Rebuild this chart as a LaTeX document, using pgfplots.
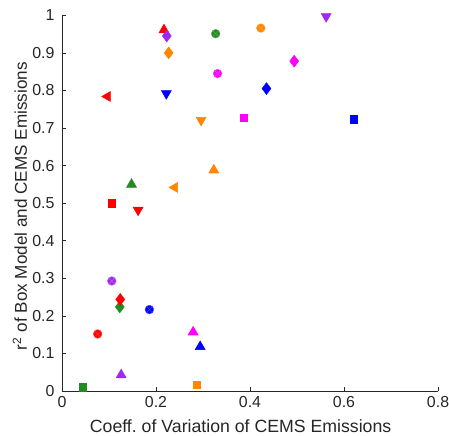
\documentclass[border=0pt]{standalone}
\usepackage{fontspec}
\setmainfont{Liberation Sans}
\usepackage{pgfplots}
\pgfplotsset{compat=1.18}
\frenchspacing
\definecolor{mred}{RGB}{255,0,0}
\definecolor{morange}{RGB}{255,135,0}
\definecolor{mgreen}{RGB}{34,139,34}
\definecolor{mblue}{RGB}{0,0,255}
\definecolor{mmag}{RGB}{255,0,255}
\definecolor{mpurple}{RGB}{160,40,240}
\definecolor{axgray}{RGB}{38,38,38}
\pgfplotsset{
  tri/.style={only marks, mark=triangle*, mark size=3.8pt, color=#1},
  trid/.style={only marks, mark=triangle*, mark size=3.8pt, color=#1, mark options={rotate=180}},
  tril/.style={only marks, mark=triangle*, mark size=3.8pt, color=#1, mark options={rotate=90}},
  sq/.style={only marks, mark=square*, mark size=2.4pt, color=#1},
  dia/.style={only marks, mark=diamond*, mark size=3.9pt, color=#1},
  circ/.style={only marks, mark=otimes*, mark size=2.9pt, color=#1, mark options={draw=#1!75!white, fill=#1, line width=0.3pt}},
}
\begin{document}
\begin{tikzpicture}
\begin{axis}[
  at={(0,0)}, anchor=south west,
  scale only axis, width=250.7pt, height=250.5pt,
  xmin=0, xmax=0.8, ymin=0, ymax=1,
  xtick={0,0.2,0.4,0.6,0.8},
  ytick={0,0.1,0.2,0.3,0.4,0.5,0.6,0.7,0.8,0.9,1},
  axis lines*=left,
  axis line style={-, draw=axgray, line width=0.5pt},
  tick style={draw=axgray, line width=0.5pt},
  tick align=inside,
  major tick length=2.4pt,
  tick label style={font=\fontsize{10.6}{12}\selectfont, text=axgray},
  /pgf/number format/assume math mode=true,
  yticklabel style={xshift=-1.5pt},
  label style={text=axgray},
  xlabel={Coeff. of Variation of CEMS Emissions},
  ylabel={r\textsuperscript{2} of Box Model and CEMS Emissions},
  xlabel style={font=\fontsize{11.8}{13}\selectfont, at={(axis description cs:0.475,-0.109)}, anchor=base},
  ylabel style={font=\fontsize{11.4}{13}\selectfont, at={(axis description cs:-0.093,0.492)}, anchor=base},
  clip=false,
]
% green
\addplot[circ=mgreen] coordinates {(0.327,0.951)};
\addplot[tri=mgreen] coordinates {(0.148,0.550)};
\addplot[dia=mgreen] coordinates {(0.123,0.224)};
\addplot[sq=mgreen] coordinates {(0.045,0.010)};
% red
\addplot[tri=mred] coordinates {(0.217,0.961)};
\addplot[tril=mred] coordinates {(0.097,0.784)};
\addplot[sq=mred] coordinates {(0.106,0.500)};
\addplot[trid=mred] coordinates {(0.162,0.482)};
\addplot[dia=mred] coordinates {(0.124,0.244)};
\addplot[circ=mred] coordinates {(0.076,0.152)};
% orange
\addplot[dia=morange] coordinates {(0.227,0.900)};
\addplot[trid=morange] coordinates {(0.296,0.721)};
\addplot[tri=morange] coordinates {(0.323,0.588)};
\addplot[tril=morange] coordinates {(0.240,0.542)};
\addplot[circ=morange] coordinates {(0.423,0.966)};
\addplot[sq=morange] coordinates {(0.287,0.016)};
% blue
\addplot[trid=mblue] coordinates {(0.222,0.792)};
\addplot[dia=mblue] coordinates {(0.435,0.805)};
\addplot[sq=mblue] coordinates {(0.621,0.723)};
\addplot[circ=mblue] coordinates {(0.186,0.217)};
\addplot[tri=mblue] coordinates {(0.294,0.118)};
% magenta
\addplot[circ=mmag] coordinates {(0.331,0.845)};
\addplot[dia=mmag] coordinates {(0.494,0.878)};
\addplot[sq=mmag] coordinates {(0.386,0.728)};
\addplot[tri=mmag] coordinates {(0.279,0.157)};
% purple
\addplot[dia=mpurple] coordinates {(0.223,0.945)};
\addplot[trid=mpurple] coordinates {(0.562,0.997)};
\addplot[circ=mpurple] coordinates {(0.106,0.293)};
\addplot[tri=mpurple] coordinates {(0.126,0.043)};
\end{axis}
\pgfresetboundingbox
\path[use as bounding box] (-41.3pt,-29.3pt) rectangle (258pt,260.7pt);
\end{tikzpicture}
\end{document}
